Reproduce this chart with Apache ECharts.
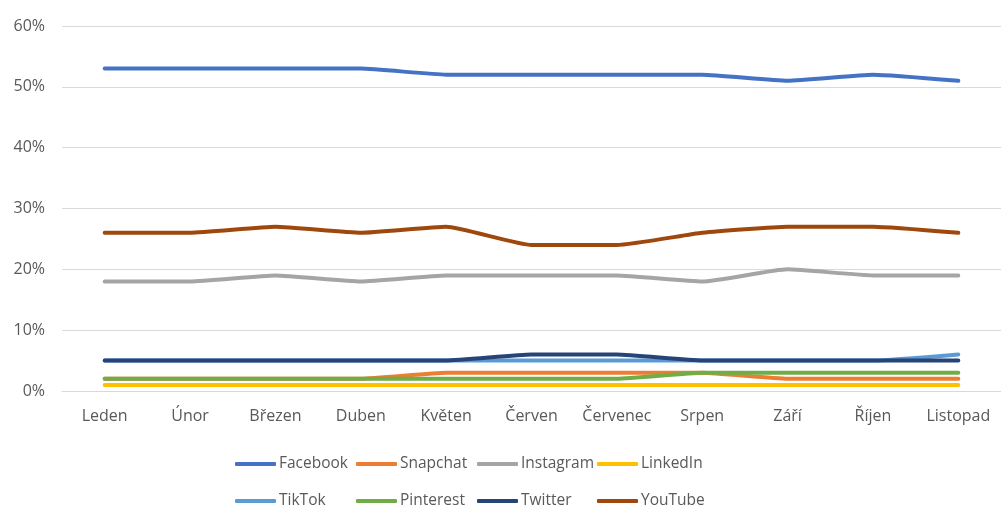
<!DOCTYPE html>
<html lang="cs" style="height: 100%">

<head>
  <meta charset="utf-8" />
</head>

<body style="height: 100%; margin: 0">
  <div id="container" style="height: 511px; width: 1001px;"></div>

  <script type="text/javascript" src="https://cdn.jsdelivr.net/npm/echarts@6/dist/echarts.min.js"></script>

  <script type="text/javascript">
    // měsíce na ose x
    var months = ['Leden', 'Únor', 'Březen', 'Duben', 'Květen', 'Červen', 'Červenec', 'Srpen', 'Září', 'Říjen', 'Listopad'];

    // podíly v %
    var facebook = [53, 53, 53, 53, 52, 52, 52, 52, 51, 52, 51];
    var snapchat = [2, 2, 2, 2, 3, 3, 3, 3, 2, 2, 2];
    var instagram = [18, 18, 19, 18, 19, 19, 19, 18, 20, 19, 19];
    var linkedin = [1, 1, 1, 1, 1, 1, 1, 1, 1, 1, 1];
    var tiktok = [5, 5, 5, 5, 5, 5, 5, 5, 5, 5, 6];
    var pinterest = [2, 2, 2, 2, 2, 2, 2, 3, 3, 3, 3];
    var twitter = [5, 5, 5, 5, 5, 6, 6, 5, 5, 5, 5];
    var youtube = [26, 26, 27, 26, 27, 24, 24, 26, 27, 27, 26];

    var yTicks = [0, 10, 20, 30, 40, 50, 60];

    // sloupce legendy (jak v Excelu)
    var legendCols = [
      ['Facebook', 'TikTok'],
      ['Snapchat', 'Pinterest'],
      ['Instagram', 'Twitter'],
      ['LinkedIn', 'YouTube']
    ];
    var legendLeft = [235, 356, 477, 597];

    var font = "'Open Sans', sans-serif";
    var textColor = '#595959';

    var dom = document.getElementById("container");
    var myChart = echarts.init(dom, null, { renderer: "canvas" });

    function line(name, data, color) {
      return {
        name: name,
        type: 'line',
        data: data,
        smooth: 0.15,
        symbol: 'none',
        lineStyle: { width: 4, color: color, cap: 'round' },
        itemStyle: { color: color },
        z: 2
      };
    }

    var legends = legendCols.map(function (names, i) {
      return {
        data: names,
        top: 456,
        left: legendLeft[i],
        orient: 'vertical',
        itemWidth: 41,
        itemHeight: 4,
        itemGap: 21,
        padding: 0,
        icon: 'roundRect',
        textStyle: {
          fontSize: 15.5,
          fontFamily: font,
          color: textColor,
          padding: [0, 0, 0, -2]
        }
      };
    });

    var option = {
      animation: false,
      backgroundColor: '#ffffff',
      grid: { left: 62, width: 945, top: 26, bottom: 120 },
      legend: legends,
      xAxis: {
        type: 'category',
        data: months,
        boundaryGap: true,
        axisLine: { lineStyle: { color: '#d9d9d9', width: 1 } },
        axisTick: { show: false },
        axisLabel: { color: textColor, fontSize: 16, fontFamily: font, margin: 17, interval: 0 }
      },
      yAxis: {
        type: 'value',
        min: yTicks[0],
        max: yTicks[yTicks.length - 1],
        interval: 10,
        axisLine: { show: false },
        axisTick: { show: false },
        splitLine: { lineStyle: { color: '#d9d9d9', width: 1 } },
        axisLabel: { color: textColor, fontSize: 16, fontFamily: font, margin: 17, formatter: '{value}%' }
      },
      series: [
        line('Facebook', facebook, '#4472C4'),
        line('Snapchat', snapchat, '#ED7D31'),
        line('Instagram', instagram, '#A5A5A5'),
        line('LinkedIn', linkedin, '#FFC000'),
        line('TikTok', tiktok, '#5B9BD5'),
        line('Pinterest', pinterest, '#70AD47'),
        line('Twitter', twitter, '#264478'),
        line('YouTube', youtube, '#9E480E')
      ]
    };

    myChart.setOption(option);
    window.addEventListener("resize", myChart.resize);
  </script>
</body>

</html>
